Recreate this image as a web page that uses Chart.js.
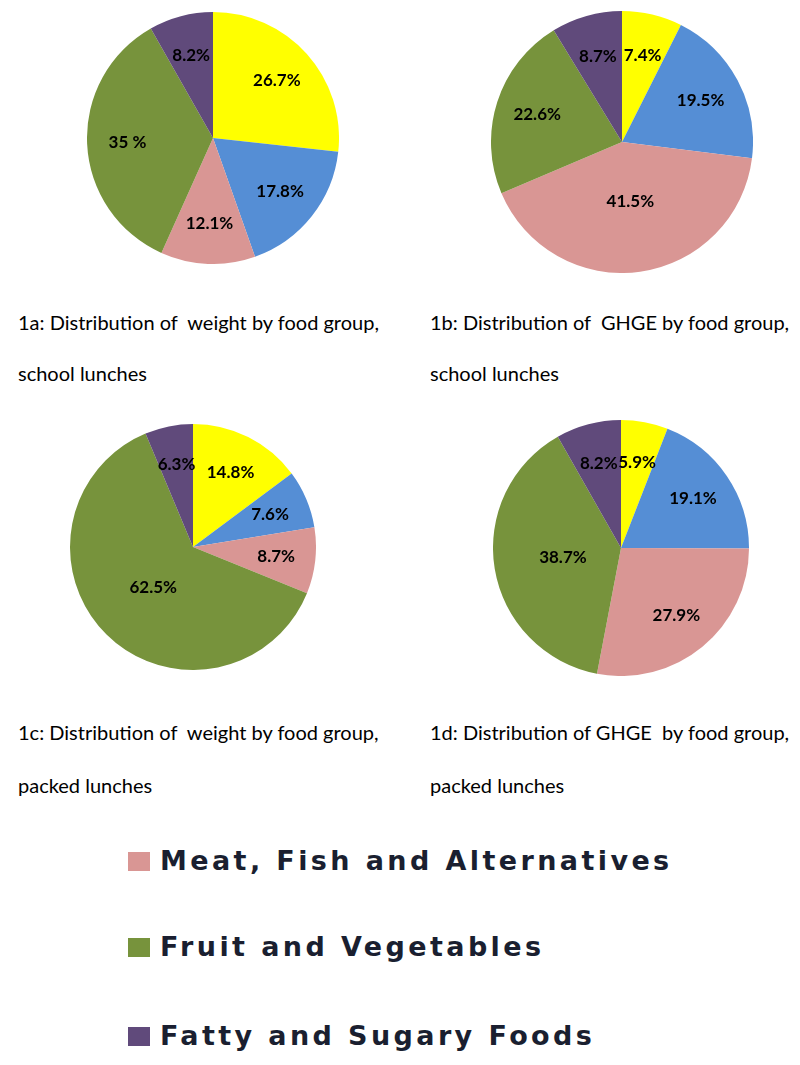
<!DOCTYPE html>
<html>
<head>
<meta charset="utf-8">
<script src="https://cdn.jsdelivr.net/npm/chart.js@4.4.1/dist/chart.umd.min.js"></script>
<style>
    body { margin: 0; background: #fff; width: 800px; height: 1065px; position: relative; overflow: hidden; }
    canvas { position: absolute; }
    .caption { position: absolute; font-family: Lato, sans-serif; font-size: 20px; color: #000; white-space: pre; }
    .legend-row { position: absolute; left: 128px; font-family: "DejaVu Sans", sans-serif; font-weight: bold; font-size: 27px; letter-spacing: 3.4px; color: #1a1f30; white-space: pre; }
    .legend-row span.box { display: inline-block; width: 22px; height: 19px; margin-right: 10px; vertical-align: -1px; }
</style>
</head>
<body>
<canvas id="pie1a" width="252" height="252" style="left:87px; top:12px"></canvas>
<canvas id="pie1b" width="262" height="262" style="left:491px; top:11px"></canvas>
<canvas id="pie1c" width="246" height="246" style="left:70px; top:424px"></canvas>
<canvas id="pie1d" width="256" height="256" style="left:493px; top:420px"></canvas>

<div class="caption" style="left:18px; top:310px">1a: Distribution of  weight by food group,</div>
<div class="caption" style="left:18px; top:361px">school lunches</div>
<div class="caption" style="left:430px; top:310px">1b: Distribution of  GHGE by food group,</div>
<div class="caption" style="left:430px; top:361px">school lunches</div>
<div class="caption" style="left:18px; top:720px">1c: Distribution of  weight by food group,</div>
<div class="caption" style="left:18px; top:773px">packed lunches</div>
<div class="caption" style="left:430px; top:720px">1d: Distribution of GHGE  by food group,</div>
<div class="caption" style="left:430px; top:773px">packed lunches</div>

<div id="legend"></div>

<script>
// food groups, clockwise from 12 o'clock
const foodGroups = ['Bread, Rice, Potatoes and Pasta', 'Milk and Dairy Foods', 'Meat, Fish and Alternatives', 'Fruit and Vegetables', 'Fatty and Sugary Foods'];
const groupColors = ['#ffff00', '#558ed5', '#d99694', '#77933c', '#604a7b'];
// only these groups show in the legend of the figure
const legendGroups = ['Meat, Fish and Alternatives', 'Fruit and Vegetables', 'Fatty and Sugary Foods'];

// percentages per chart
const weightSchool = [26.7, 17.8, 12.1, 35, 8.2];
const ghgeSchool = [7.4, 19.5, 41.5, 22.6, 8.7];
const weightPacked = [14.8, 7.6, 8.7, 62.5, 6.3];
const ghgePacked = [5.9, 19.1, 27.9, 38.7, 8.2];

// label texts as printed
const labels1a = ['26.7%', '17.8%', '12.1%', '35 %', '8.2%'];
const labels1b = ['7.4%', '19.5%', '41.5%', '22.6%', '8.7%'];
const labels1c = ['14.8%', '7.6%', '8.7%', '62.5%', '6.3%'];
const labels1d = ['5.9%', '19.1%', '27.9%', '38.7%', '8.2%'];

// plugin kecil untuk menulis persentase di dalam irisan
const sliceLabels = {
    id: 'sliceLabels',
    afterDatasetsDraw(chart, args, opts) {
        const ctx = chart.ctx;
        const meta = chart.getDatasetMeta(0);
        const texts = opts.texts || [];
        ctx.save();
        ctx.font = 'bold 17px Lato, sans-serif';
        ctx.fillStyle = '#000';
        ctx.textAlign = 'center';
        ctx.textBaseline = 'middle';
        meta.data.forEach((arc, i) => {
            const p = arc.getProps(['x', 'y', 'startAngle', 'endAngle', 'outerRadius'], true);
            const mid = (p.startAngle + p.endAngle) / 2;
            const v = chart.data.datasets[0].data[i];
            const f = v >= 38 ? 0.46 : 0.68;
            const x = p.x + Math.cos(mid) * p.outerRadius * f;
            const y = p.y + Math.sin(mid) * p.outerRadius * f;
            ctx.fillText(texts[i], x, y);
        });
        ctx.restore();
    }
};

function buatPie(id, values, texts) {
    const ctx = document.getElementById(id).getContext('2d');
    return new Chart(ctx, {
        type: 'pie',
        data: {
            labels: foodGroups,
            datasets: [{
                data: values,
                backgroundColor: groupColors,
                borderWidth: 0
            }]
        },
        options: {
            responsive: false,
            animation: false,
            layout: { padding: 0 },
            plugins: {
                legend: { display: false },
                tooltip: { enabled: false },
                sliceLabels: { texts: texts }
            }
        },
        plugins: [sliceLabels]
    });
}

buatPie('pie1a', weightSchool, labels1a);
buatPie('pie1b', ghgeSchool, labels1b);
buatPie('pie1c', weightPacked, labels1c);
buatPie('pie1d', ghgePacked, labels1d);

// legend manual di bawah
const legendTops = [845, 931, 1020];
const legend = document.getElementById('legend');
legendGroups.forEach((name, i) => {
    const row = document.createElement('div');
    row.className = 'legend-row';
    row.style.top = legendTops[i] + 'px';
    const c = groupColors[foodGroups.indexOf(name)];
    row.innerHTML = `<span class="box" style="background:${c}"></span>${name}`;
    legend.appendChild(row);
});
</script>
</body>
</html>
